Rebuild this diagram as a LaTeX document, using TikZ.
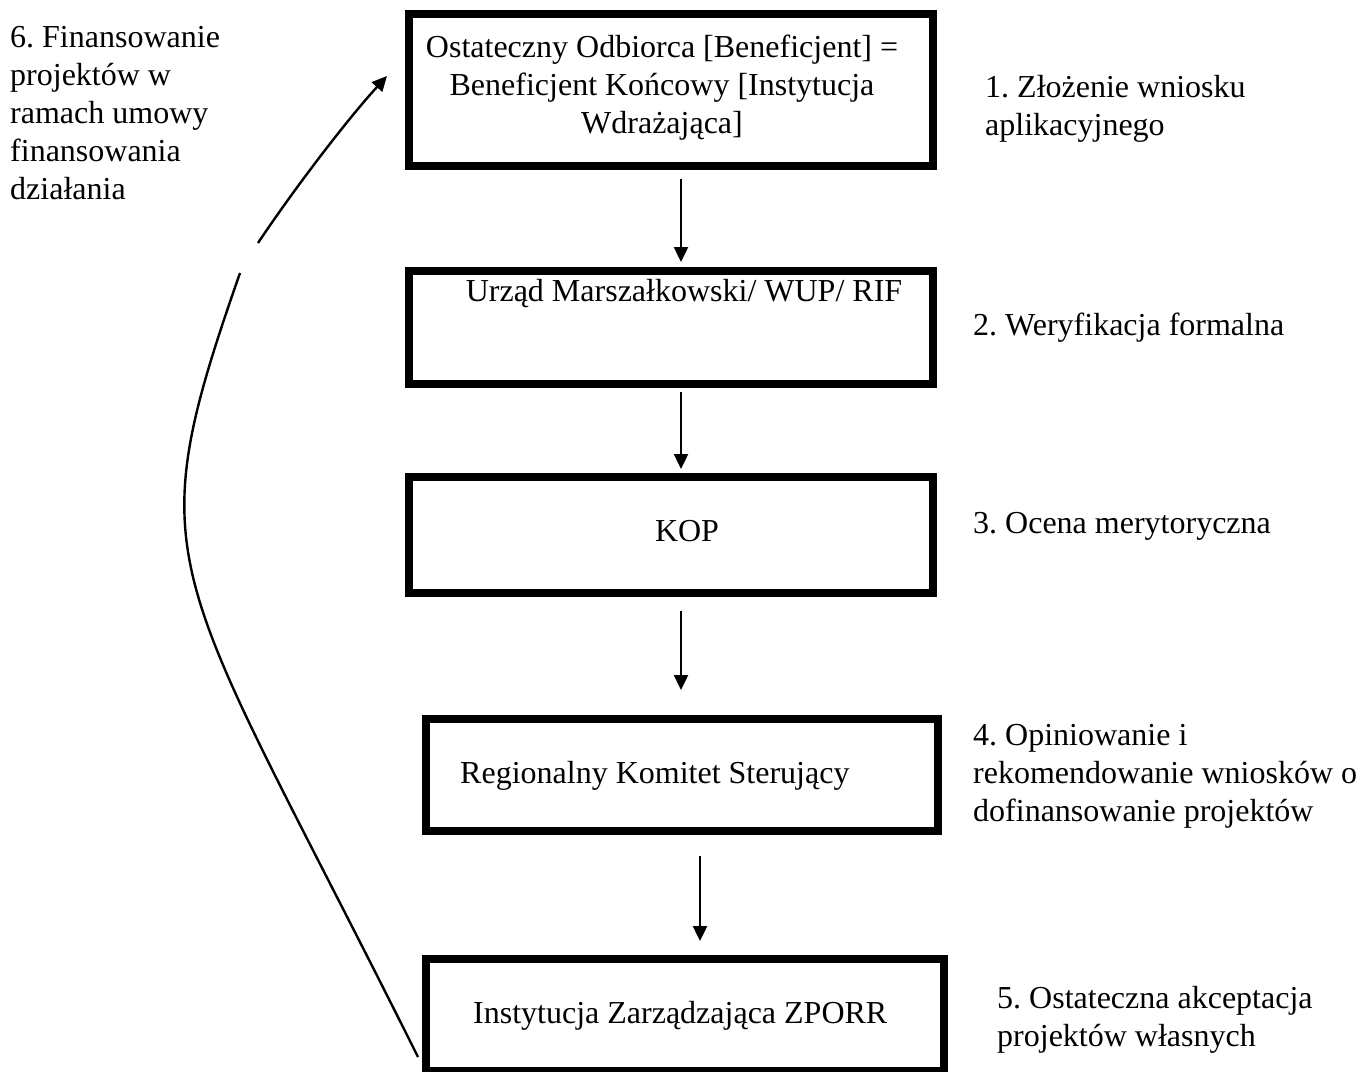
\documentclass[tikz,border=0pt]{standalone}
\usepackage{fontspec}
\setmainfont{Liberation Serif}
\usetikzlibrary{arrows.meta}
\frenchspacing
\begin{document}
\begin{tikzpicture}[x=1pt,y=-1pt,
  box/.style={draw=black,line width=8pt,fill=none,inner sep=0pt},
  txt/.style={inner sep=0pt,font=\fontsize{32}{38}\selectfont},
  arr/.style={line width=2.4pt,-{Triangle[length=15pt,width=14pt]}},
  loop/.style={line width=2.4pt}]
\fill[white] (0,0) rectangle (1360,1071);
\useasboundingbox (0,0) rectangle (1360,1071);
% boxes
\node[box,minimum width=524pt,minimum height=152pt] (b1) at (671,90) {};
\node[box,minimum width=524pt,minimum height=113pt] (b2) at (671,327.5) {};
\node[box,minimum width=524pt,minimum height=116pt] (b3) at (671,535) {};
\node[box,minimum width=512pt,minimum height=112pt] (b4) at (682,775) {};
\node[box,minimum width=518pt,minimum height=112pt] (b5) at (685,1015) {};
% box texts
\node[txt,anchor=north,align=center] (t1) at (662,30.4) {\strut Ostateczny Odbiorca [Beneficjent] =\\Beneficjent Końcowy [Instytucja\\Wdrażająca]};
\node[txt,anchor=base] (t2) at (684,301) {Urząd Marszałkowski/ WUP/ RIF};
\node[txt,anchor=base] (t3) at (687,541) {KOP};
\node[txt,anchor=base west] (t4) at (460,783) {Regionalny Komitet Sterujący};
\node[txt,anchor=base west] (t5) at (473,1023) {Instytucja Zarządzająca ZPORR};
% side labels
\node[txt,anchor=north west,align=left] (l6) at (10,20.4) {\strut 6. Finansowanie\\projektów w\\ramach umowy\\finansowania\\działania};
\node[txt,anchor=north west,align=left] (l1) at (985,70.4) {\strut 1. Złożenie wniosku\\aplikacyjnego};
\node[txt,anchor=base west] (l2) at (973,335) {2. Weryfikacja formalna};
\node[txt,anchor=base west] (l3) at (973,533) {3. Ocena merytoryczna};
\node[txt,anchor=north west,align=left] (l4) at (973,718.4) {\strut 4. Opiniowanie i\\rekomendowanie wniosków o\\dofinansowanie projektów};
\node[txt,anchor=north west,align=left] (l5) at (997,981.4) {\strut 5. Ostateczna akceptacja\\projektów własnych};
% arrows
\coordinate (ax) at (681,0);
\coordinate (bx) at (700,0);
\draw[arr] ([yshift=-9pt]b1.south -| ax) -- ([yshift=5pt]b2.north -| ax);
\draw[arr] ([yshift=-4pt]b2.south -| ax) -- ([yshift=4pt]b3.north -| ax);
\draw[arr] ([yshift=-14pt]b3.south -| ax) -- ([yshift=25pt]b4.north -| ax);
\draw[arr] ([yshift=-21pt]b4.south -| bx) -- ([yshift=14pt]b5.north -| bx);
% feedback curve
\coordinate (cs) at ([xshift=-4pt,yshift=-42pt]b5.west);
\coordinate (g1) at (240,273);
\coordinate (g2) at (258,243);
\coordinate (ce) at ([xshift=-18pt,yshift=14pt]b1.west);
\draw[loop] (cs) .. controls (170,560) and (135,573) .. (g1);
\draw[loop,-{Triangle[length=15pt,width=14pt]}] (g2) .. controls (292,192) and (345,122) .. (ce);
\end{tikzpicture}
\end{document}
